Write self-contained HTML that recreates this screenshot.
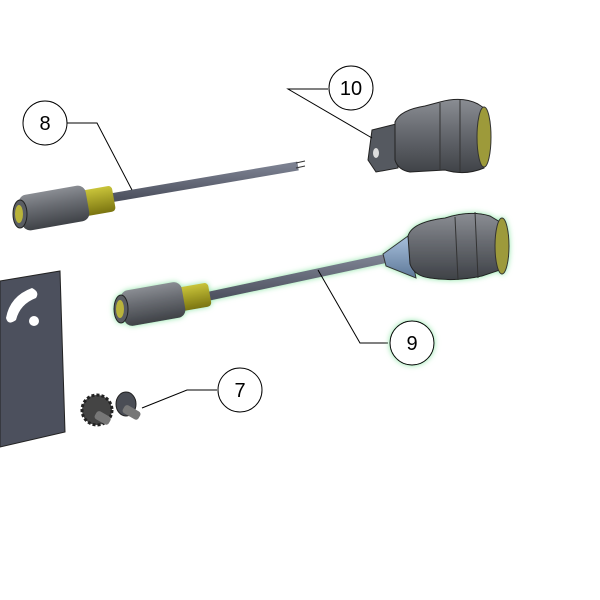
<!DOCTYPE html>
<html><head><style>body{margin:0;background:#fff}svg{display:block}</style></head><body>
<svg width="600" height="600" viewBox="0 0 600 600" xmlns="http://www.w3.org/2000/svg" font-family="Liberation Sans, sans-serif">
<defs>
<linearGradient id="gb" x1="0" y1="0" x2="0" y2="1"><stop offset="0" stop-color="#8a8d93"/><stop offset=".4" stop-color="#6a6d73"/><stop offset="1" stop-color="#3f4247"/></linearGradient>
<linearGradient id="gy" x1="0" y1="0" x2="0" y2="1"><stop offset="0" stop-color="#c9c43a"/><stop offset="1" stop-color="#7a7410"/></linearGradient>
<linearGradient id="gc" x1="0" y1="0" x2="0" y2="1"><stop offset="0" stop-color="#7b8090"/><stop offset="1" stop-color="#4e5260"/></linearGradient>
<linearGradient id="gbl" x1="0" y1="0" x2="0" y2="1"><stop offset="0" stop-color="#a8c0dc"/><stop offset="1" stop-color="#5d7898"/></linearGradient>
<filter id="glow" filterUnits="userSpaceOnUse" x="0" y="0" width="600" height="600"><feGaussianBlur in="SourceAlpha" stdDeviation="3" result="b"/><feFlood flood-color="#8fe6a8" result="f"/><feComposite in="f" in2="b" operator="in" result="g"/><feMerge><feMergeNode in="g"/><feMergeNode in="SourceGraphic"/></feMerge></filter>
</defs>
<!-- plate -->
<polygon points="0,281 60,271 65,432 0,447" fill="#4c505d" stroke="#222" stroke-width="1"/>
<path d="M6,318 Q10,296 32,288 Q40,292 36,298 Q20,304 16,320 Q8,326 6,318Z" fill="#fff"/>
<circle cx="34" cy="321" r="5" fill="#fff"/>
<!-- cable 8 -->
<line x1="110" y1="198" x2="298" y2="166" stroke="url(#gc)" stroke-width="9"/>
<path d="M296,163 L305,161 M296,168 L305,166" stroke="#333" stroke-width="1"/>
<rect x="82" y="188" width="32" height="26" rx="4" fill="url(#gy)" transform="rotate(-10 98 201)"/>
<rect x="20" y="190" width="68" height="36" rx="8" fill="url(#gb)" transform="rotate(-10 54 208)"/>
<ellipse cx="20" cy="214" rx="7" ry="14" fill="#5a5d63" stroke="#222"/>
<ellipse cx="19" cy="214" rx="4" ry="9" fill="#b9b33a"/>
<!-- connector 10 -->
<polygon points="372,130 396,124 398,168 376,172 368,160" fill="#555960" stroke="#222"/>
<ellipse cx="376" cy="153" rx="3" ry="5" fill="#ddd"/>
<path d="M395,122 Q400,110 425,106 L440,102 Q462,96 478,104 L484,108 L484,168 Q465,176 445,170 L410,172 Q398,170 395,160Z" fill="url(#gb)" stroke="#222"/>
<ellipse cx="484" cy="137" rx="7" ry="30" fill="#9d9a3a" stroke="#333"/>
<path d="M440,103 L440,170 M460,100 L460,172" stroke="#333" stroke-width="1"/>
<!-- cable 9 -->
<g filter="url(#glow)">
<line x1="205" y1="297" x2="388" y2="258" stroke="url(#gc)" stroke-width="9"/>
<polygon points="383,254 408,236 416,278 386,266" fill="url(#gbl)" stroke="#333"/>
<path d="M408,236 Q412,222 445,218 Q470,210 490,216 L500,222 Q510,245 500,270 L482,276 Q455,282 430,278 Q414,276 410,264Z" fill="url(#gb)" stroke="#222"/>
<ellipse cx="502" cy="246" rx="7" ry="28" fill="#9d9a3a" stroke="#333"/>
<path d="M455,217 L458,280 M475,212 L478,278" stroke="#333"/>
<rect x="178" y="285" width="32" height="24" rx="4" fill="url(#gy)" transform="rotate(-10 194 297)"/>
<rect x="122" y="286" width="62" height="36" rx="8" fill="url(#gb)" transform="rotate(-10 153 304)"/>
<ellipse cx="121" cy="309" rx="7" ry="14" fill="#5a5d63" stroke="#222"/>
<ellipse cx="120" cy="309" rx="4" ry="9" fill="#b9b33a"/>
</g>
<!-- screws 7 -->
<circle cx="97" cy="410" r="15" fill="#444" stroke="#222" stroke-dasharray="3 2" stroke-width="3"/>
<rect x="98" y="410" width="16" height="9" rx="3" fill="#777" transform="rotate(30 98 410)"/>
<ellipse cx="126" cy="404" rx="10" ry="12" fill="#4a4d55" stroke="#222"/>
<rect x="126" y="404" width="18" height="9" rx="3" fill="#777" transform="rotate(30 126 404)"/>
<!-- leaders -->
<g stroke="#000" stroke-width="1" fill="none">
<polyline points="67,123 97,123 132,190"/>
<polyline points="328,89 288,89 372,138"/>
<polyline points="388,343 360,343 318,270"/>
<polyline points="217,390 187,390 142,408"/>
</g>
<g fill="#fff" stroke="#000" stroke-width="1">
<circle cx="45" cy="123" r="22"/>
<circle cx="351" cy="88" r="22"/>
<circle cx="412" cy="343" r="22" filter="url(#glow)"/>
<circle cx="240" cy="390" r="22"/>
</g>
<g font-size="20" text-anchor="middle" fill="#000">
<text x="45" y="130">8</text><text x="351" y="95">10</text><text x="412" y="350">9</text><text x="240" y="397">7</text>
</g>
</svg>
</body></html>
